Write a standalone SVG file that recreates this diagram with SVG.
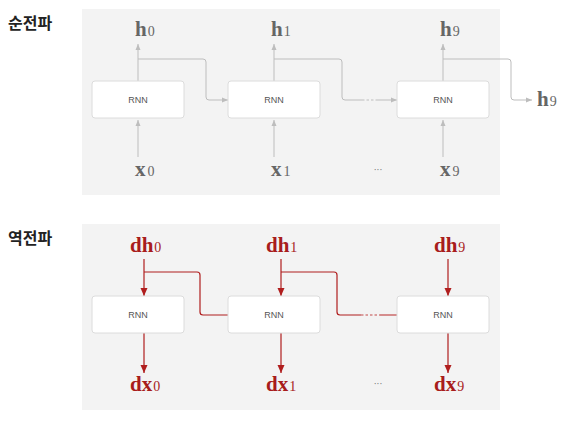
<svg xmlns="http://www.w3.org/2000/svg" width="567" height="422" viewBox="0 0 567 422">
<defs>
<style>
.panel{fill:#f3f3f3}
.box rect{fill:#fff;stroke:#dcdcdc;stroke-width:1}
.box text{font-family:"Liberation Sans",Arial,sans-serif;font-size:9px;fill:#555;text-anchor:middle}
.title{font-family:"Noto Sans CJK KR","Noto Sans",sans-serif;font-size:16px;font-weight:bold;fill:#222}
.lblg{font-family:"Liberation Serif","Times New Roman",serif;fill:#666}
.lblr{font-family:"Liberation Serif","Times New Roman",serif;fill:#a81c1c}
.m{font-weight:bold;font-size:21px}
.s{font-size:14px}
.g{fill:none;stroke:#bdbdbd;stroke-width:1}
.r{fill:none;stroke:#b01e1e;stroke-width:1.2}
.rl{fill:none;stroke:#c24a4a;stroke-width:1.2}
.dots{font-family:"DejaVu Sans",sans-serif;font-size:9px;fill:#777;text-anchor:middle}
</style>
<marker id="ag" viewBox="0 0 6 6" refX="6" refY="3" markerWidth="6" markerHeight="6" orient="auto" markerUnits="userSpaceOnUse"><path d="M0,0.5 L6,3 L0,5.5z" fill="#bdbdbd"/></marker>
<marker id="ar" viewBox="0 0 8 8" refX="8" refY="4" markerWidth="8" markerHeight="8" orient="auto" markerUnits="userSpaceOnUse"><path d="M0,0.5 L8,4 L0,7.5z" fill="#b01e1e"/></marker>
</defs>
<text class="title" x="8" y="29">순전파</text>
<text class="title" x="8" y="244">역전파</text>
<rect class="panel" x="82" y="9" width="418" height="186"/>
<rect class="panel" x="82" y="224" width="418" height="186"/>
<g id="connectors">
<path class="g" d="M138,81 V44" marker-end="url(#ag)"/>
<path class="g" d="M274,81 V44" marker-end="url(#ag)"/>
<path class="g" d="M443,81 V44" marker-end="url(#ag)"/>
<path class="g" d="M138,157 V120" marker-end="url(#ag)"/>
<path class="g" d="M274,157 V120" marker-end="url(#ag)"/>
<path class="g" d="M443,157 V120" marker-end="url(#ag)"/>
<path class="g" d="M138,59 H203 Q206,59 206,62 V97 Q206,100 209,100 H228" marker-end="url(#ag)"/>
<path class="g" d="M274,59 H339 Q342,59 342,62 V97 Q342,100 345,100 H362"/>
<path class="g" d="M362,100 H378" stroke-dasharray="2.5,2"/>
<path class="g" d="M378,100 H397" marker-end="url(#ag)"/>
<path class="g" d="M443,59 H508 Q511,59 511,62 V97 Q511,100 514,100 H532" marker-end="url(#ag)"/>
<path class="r" d="M144,259 V296" marker-end="url(#ar)"/>
<path class="r" d="M281,259 V296" marker-end="url(#ar)"/>
<path class="r" d="M448,259 V296" marker-end="url(#ar)"/>
<path class="r" d="M144,333 V373" marker-end="url(#ar)"/>
<path class="r" d="M281,333 V373" marker-end="url(#ar)"/>
<path class="r" d="M448,333 V373" marker-end="url(#ar)"/>
<path class="r" d="M144,272 H197 Q200,272 200,275 V312 Q200,315 203,315 H228"/>
<path class="r" d="M281,272 H334 Q337,272 337,275 V312 Q337,315 340,315 H361"/>
<path class="rl" d="M361,315 H380" stroke-dasharray="2.5,2"/>
<path class="rl" d="M380,315 H397"/>
</g>
<g id="f-rnn0" class="box"><rect x="92" y="81" width="92" height="37" rx="3"/><text x="138" y="103">RNN</text></g>
<g id="f-rnn1" class="box"><rect x="228" y="81" width="92" height="37" rx="3"/><text x="274" y="103">RNN</text></g>
<g id="f-rnn9" class="box"><rect x="397" y="81" width="92" height="37" rx="3"/><text x="443" y="103">RNN</text></g>
<g id="b-rnn0" class="box"><rect x="92" y="296" width="92" height="37" rx="3"/><text x="138" y="318">RNN</text></g>
<g id="b-rnn1" class="box"><rect x="228" y="296" width="92" height="37" rx="3"/><text x="274" y="318">RNN</text></g>
<g id="b-rnn9" class="box"><rect x="397" y="296" width="92" height="37" rx="3"/><text x="443" y="318">RNN</text></g>
<g id="f-labels" class="lblg">
<text x="135" y="36"><tspan class="m">h</tspan><tspan class="s" dx="1">0</tspan></text>
<text x="271" y="36"><tspan class="m">h</tspan><tspan class="s" dx="1">1</tspan></text>
<text x="440" y="36"><tspan class="m">h</tspan><tspan class="s" dx="1">9</tspan></text>
<text x="537" y="106"><tspan class="m">h</tspan><tspan class="s" dx="1">9</tspan></text>
<text x="135" y="176"><tspan class="m">x</tspan><tspan class="s" dx="2">0</tspan></text>
<text x="271" y="176"><tspan class="m">x</tspan><tspan class="s" dx="2">1</tspan></text>
<text x="440" y="176"><tspan class="m">x</tspan><tspan class="s" dx="2">9</tspan></text>
<text class="dots" x="378" y="173">···</text>
</g>
<g id="b-labels" class="lblr">
<text x="130" y="252"><tspan class="m">dh</tspan><tspan class="s" dx="1">0</tspan></text>
<text x="266" y="252"><tspan class="m">dh</tspan><tspan class="s" dx="1">1</tspan></text>
<text x="434" y="252"><tspan class="m">dh</tspan><tspan class="s" dx="1">9</tspan></text>
<text x="130" y="391"><tspan class="m">dx</tspan><tspan class="s" dx="1">0</tspan></text>
<text x="266" y="391"><tspan class="m">dx</tspan><tspan class="s" dx="1">1</tspan></text>
<text x="434" y="391"><tspan class="m">dx</tspan><tspan class="s" dx="1">9</tspan></text>
<text class="dots" x="378" y="387">···</text>
</g>
</svg>
